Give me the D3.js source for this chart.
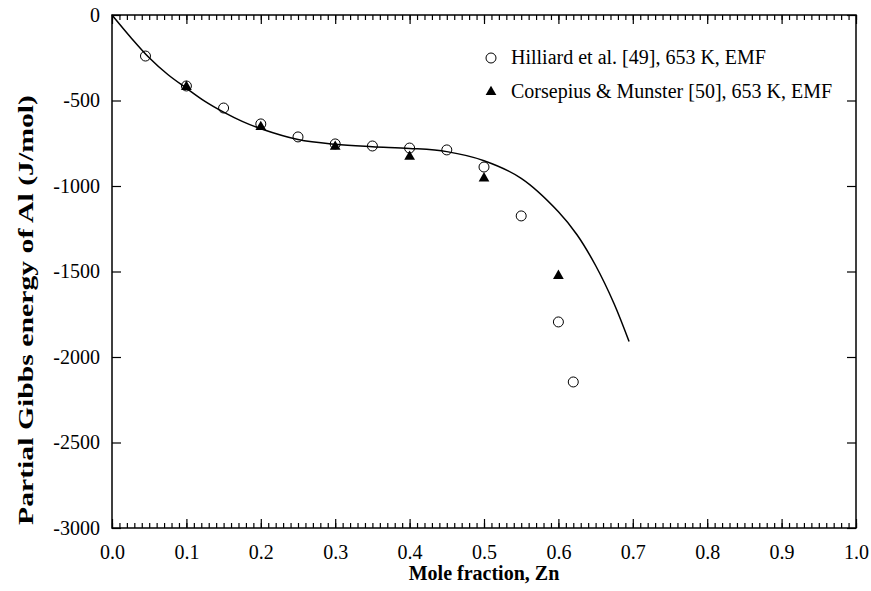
<!DOCTYPE html>
<html>
<head>
<meta charset="utf-8">
<script src="https://cdn.jsdelivr.net/npm/d3@7"></script>
<style>
  body { margin: 0; background: #fff; }
  svg { display: block; }
  svg text { font-family: "Liberation Serif", "Times New Roman", serif; fill: #000; }
</style>
</head>
<body>
<svg id="chart" width="871" height="591"></svg>
<script>
// data
const hilliardX = [0.045, 0.1, 0.15, 0.2, 0.25, 0.3, 0.35, 0.4, 0.45, 0.5, 0.55, 0.6, 0.62];
const hilliardY = [-240, -415, -544, -637, -713, -754, -766, -778, -789, -889, -1175, -1795, -2146];
const corsepiusX = [0.1, 0.2, 0.3, 0.4, 0.5, 0.6];
const corsepiusY = [-420, -655, -770, -828, -955, -1525];
const modelX = [0, 0.025, 0.05, 0.075, 0.1, 0.125, 0.15, 0.175, 0.2, 0.25, 0.3, 0.35, 0.4, 0.45, 0.5, 0.55, 0.6, 0.625, 0.65, 0.675, 0.695];
const modelY = [0, -130, -250, -348, -428, -505, -568, -622, -665, -728, -756, -770, -780, -799, -852, -955, -1150, -1285, -1465, -1690, -1910];
const xTicks = [0, 0.1, 0.2, 0.3, 0.4, 0.5, 0.6, 0.7, 0.8, 0.9, 1.0];
const yTicks = [0, -500, -1000, -1500, -2000, -2500, -3000];
const legendLabels = ['Hilliard et al. [49], 653 K, EMF', 'Corsepius & Munster [50], 653 K, EMF'];

const margin = { left: 112, top: 15, right: 15, bottom: 63 };
const width = 871 - margin.left - margin.right;
const height = 591 - margin.top - margin.bottom;

const svg = d3.select('#chart');
const g = svg.append('g').attr('transform', `translate(${margin.left},${margin.top})`);

const x = d3.scaleLinear().domain([0, 1]).range([0, width]);
const y = d3.scaleLinear().domain([-3000, 0]).range([height, 0]);

const minorX = d3.range(0, 101).map(i => i / 100);

function clean(a) {
  a.select('.domain').remove();
  a.attr('font-family', null).attr('font-size', null);
}

// minor ticks, bottom and top (inward)
g.append('g')
  .attr('transform', `translate(0,${height})`)
  .call(d3.axisBottom(x).tickValues(minorX).tickSize(-5).tickFormat(''))
  .call(clean);
g.append('g')
  .call(d3.axisTop(x).tickValues(minorX).tickSize(-5).tickFormat(''))
  .call(clean);

// major ticks
const xAxis = g.append('g')
  .attr('transform', `translate(0,${height})`)
  .call(d3.axisBottom(x).tickValues(xTicks).tickSize(-9).tickPadding(17).tickFormat(d3.format('.1f')))
  .call(clean);
xAxis.selectAll('text').attr('font-size', 20);

g.append('g')
  .call(d3.axisTop(x).tickValues(xTicks).tickSize(-9).tickFormat(''))
  .call(clean);

const yAxis = g.append('g')
  .call(d3.axisLeft(y).tickValues(yTicks).tickSize(-9).tickPadding(12).tickFormat(d => String(d)))
  .call(clean);
yAxis.selectAll('text').attr('font-size', 20);

g.append('g')
  .attr('transform', `translate(${width},0)`)
  .call(d3.axisRight(y).tickValues(yTicks).tickSize(-9).tickFormat(''))
  .call(clean);

g.selectAll('.tick line').attr('stroke', '#000').attr('stroke-width', 1.2);

// frame
g.append('rect')
  .attr('width', width).attr('height', height)
  .attr('fill', 'none').attr('stroke', '#000').attr('stroke-width', 1.5);

// model curve
const modelData = modelX.map((d, i) => [d, modelY[i]]);
g.append('path')
  .datum(modelData)
  .attr('fill', 'none')
  .attr('stroke', '#000')
  .attr('stroke-width', 1.5)
  .attr('d', d3.line().x(d => x(d[0])).y(d => y(d[1])).curve(d3.curveCatmullRom));

// triangles
const tri = d3.symbol().type(d3.symbolTriangle).size(50);
g.selectAll('.tri')
  .data(corsepiusX.map((d, i) => [d, corsepiusY[i]]))
  .enter().append('path')
  .attr('class', 'tri')
  .attr('d', tri)
  .attr('transform', d => `translate(${x(d[0])},${y(d[1])})`)
  .attr('fill', '#000');

// circles
g.selectAll('.circ')
  .data(hilliardX.map((d, i) => [d, hilliardY[i]]))
  .enter().append('circle')
  .attr('class', 'circ')
  .attr('cx', d => x(d[0]))
  .attr('cy', d => y(d[1]))
  .attr('r', 5)
  .attr('fill', 'none')
  .attr('stroke', '#000')
  .attr('stroke-width', 1);

// legend
const leg = svg.append('g').attr('transform', 'translate(491,58)');
leg.append('circle').attr('r', 5).attr('fill', 'none').attr('stroke', '#000');
leg.append('path').attr('d', tri).attr('transform', 'translate(0,34)').attr('fill', '#000');
leg.selectAll('text')
  .data(legendLabels)
  .enter().append('text')
  .attr('x', 20)
  .attr('y', (d, i) => 6 + i * 34)
  .attr('font-size', 20)
  .text(d => d);

// axis titles
svg.append('text')
  .attr('x', margin.left + width / 2)
  .attr('y', 580)
  .attr('text-anchor', 'middle')
  .attr('font-size', 20)
  .attr('font-weight', 'bold')
  .text('Mole fraction, Zn');

svg.append('text')
  .attr('transform', 'translate(33,310) rotate(-90)')
  .attr('text-anchor', 'middle')
  .attr('font-size', 20)
  .attr('font-weight', 'bold')
  .attr('textLength', 430)
  .attr('lengthAdjust', 'spacingAndGlyphs')
  .text('Partial Gibbs energy of Al (J/mol)');
</script>
</body>
</html>
